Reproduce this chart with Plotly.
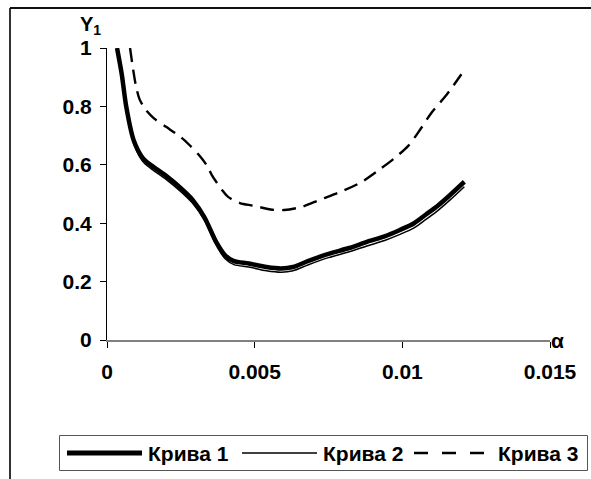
import plotly.graph_objects as go

# ---- data ----
alpha_12 = [0.00034, 0.0005, 0.00065, 0.0009, 0.0012, 0.0015, 0.002, 0.0025, 0.0029,
            0.0033, 0.0037, 0.004, 0.0043, 0.0048, 0.0054, 0.0059, 0.0063, 0.0068,
            0.0075, 0.0082, 0.0088, 0.0094, 0.0099, 0.0104, 0.0108, 0.0112, 0.0116, 0.0121]
kriva1 = [1.0, 0.91, 0.80, 0.685, 0.625, 0.598, 0.562, 0.52, 0.48, 0.42, 0.335, 0.29,
          0.27, 0.262, 0.25, 0.245, 0.25, 0.27, 0.295, 0.315, 0.336, 0.355, 0.376,
          0.40, 0.43, 0.46, 0.495, 0.542]
kriva2 = [1.0, 0.905, 0.795, 0.675, 0.613, 0.586, 0.55, 0.508, 0.468, 0.41, 0.325, 0.278,
          0.258, 0.25, 0.237, 0.232, 0.237, 0.257, 0.282, 0.302, 0.322, 0.341, 0.361,
          0.384, 0.413, 0.443, 0.478, 0.525]
alpha_3 = [0.00078, 0.00088, 0.00098, 0.0011, 0.0013, 0.0016, 0.002, 0.0025, 0.0028,
           0.0031, 0.0034, 0.00355, 0.0039, 0.0041, 0.0045, 0.00495, 0.0056, 0.006,
           0.0066, 0.0072, 0.0079, 0.0086, 0.0092, 0.0097, 0.0102, 0.0106, 0.011,
           0.0115, 0.012]
kriva3 = [1.0, 0.93, 0.87, 0.825, 0.79, 0.758, 0.73, 0.695, 0.667, 0.635, 0.595, 0.565,
          0.513, 0.49, 0.469, 0.46, 0.446, 0.445, 0.456, 0.48, 0.507, 0.54, 0.582, 0.62,
          0.665, 0.72, 0.78, 0.84, 0.91]
series_names = ["Крива 1", "Крива 2", "Крива 3"]
x_ticks = [0, 0.005, 0.01, 0.015]
x_tick_labels = ["0", "0.005", "0.01", "0.015"]
y_ticks = [0, 0.2, 0.4, 0.6, 0.8, 1]
y_tick_labels = ["0", "0.2", "0.4", "0.6", "0.8", "1"]

# ---- layout geometry ----
W, H = 591, 479
L, R, T, B = 107, 41, 48, 139
PW, PH = W - L - R, H - T - B


def px_x(px):
    return (px - L) / PW


def px_y(py):
    return (H - B - py) / PH


FONT = "Liberation Sans, Arial, sans-serif"
FS = 21
DASH = "14px,8px"

fig = go.Figure()
fig.add_trace(go.Scatter(x=alpha_12, y=kriva2, mode="lines", name=series_names[1],
                         line=dict(color="black", width=1.5, shape="spline", smoothing=0.8)))
fig.add_trace(go.Scatter(x=alpha_12, y=kriva1, mode="lines", name=series_names[0],
                         line=dict(color="black", width=4.5, shape="spline", smoothing=0.8)))
fig.add_trace(go.Scatter(x=alpha_3, y=kriva3, mode="lines", name=series_names[2],
                         line=dict(color="black", width=2.4, dash=DASH, shape="spline", smoothing=0.8)))

shapes = []
annotations = []

# outer border (left and top visible)
shapes.append(dict(type="line", xref="paper", yref="paper",
                   x0=px_x(10), x1=px_x(10), y0=px_y(8), y1=px_y(485),
                   line=dict(color="#333333", width=2)))
shapes.append(dict(type="line", xref="paper", yref="paper",
                   x0=px_x(10), x1=px_x(600), y0=px_y(8), y1=px_y(8),
                   line=dict(color="#111111", width=2)))

# manual legend
shapes.append(dict(type="rect", xref="paper", yref="paper",
                   x0=px_x(59.5), x1=px_x(587.5), y0=px_y(435.5), y1=px_y(470.5),
                   line=dict(color="#555555", width=1), fillcolor="white"))
leg_y = 453
legend_items = [
    (series_names[0], 67, 142, 146, dict(color="black", width=5)),
    (series_names[1], 242, 317, 321, dict(color="black", width=1.5)),
    (series_names[2], 414, 492, 496, dict(color="black", width=2.4, dash="14px,14px")),
]
for name, lx0, lx1, tx, ln in legend_items:
    shapes.append(dict(type="line", xref="paper", yref="paper",
                       x0=px_x(lx0), x1=px_x(lx1), y0=px_y(leg_y), y1=px_y(leg_y), line=ln))
    annotations.append(dict(text=name, xref="paper", yref="paper", x=px_x(tx), y=px_y(leg_y),
                            xanchor="left", yanchor="middle", showarrow=False,
                            font=dict(family=FONT, size=FS, color="black", weight="bold")))

# axis titles
annotations.append(dict(text="Y<sub>1</sub>", xref="paper", yref="paper",
                        x=px_x(90), y=px_y(26), xanchor="center", yanchor="middle",
                        showarrow=False,
                        font=dict(family=FONT, size=20, color="black", weight="bold")))
annotations.append(dict(text="α", xref="paper", yref="paper",
                        x=px_x(557), y=px_y(340), xanchor="center", yanchor="middle",
                        showarrow=False,
                        font=dict(family=FONT, size=FS, color="black", weight="bold")))

fig.update_layout(
    width=W, height=H,
    margin=dict(l=L, r=R, t=T, b=B, pad=0),
    paper_bgcolor="white", plot_bgcolor="white",
    showlegend=False,
    shapes=shapes, annotations=annotations,
    font=dict(family=FONT, size=FS, color="black"),
)
fig.update_xaxes(range=[0, 0.015], tickvals=x_ticks, ticktext=x_tick_labels,
                 showgrid=False, zeroline=False, showline=True, linecolor="#808080", linewidth=1.5,
                 ticks="outside", ticklen=6, tickcolor="black", tickwidth=1,
                 ticklabelstandoff=6,
                 tickfont=dict(family=FONT, size=FS, color="black", weight="bold"))
fig.update_yaxes(range=[0, 1], tickvals=y_ticks, ticktext=y_tick_labels,
                 showgrid=False, zeroline=False, showline=True, linecolor="black", linewidth=1,
                 ticks="outside", ticklen=6, tickcolor="black", tickwidth=1,
                 ticklabelstandoff=4,
                 tickfont=dict(family=FONT, size=FS, color="black", weight="bold"))

fig.write_html("out.html")
